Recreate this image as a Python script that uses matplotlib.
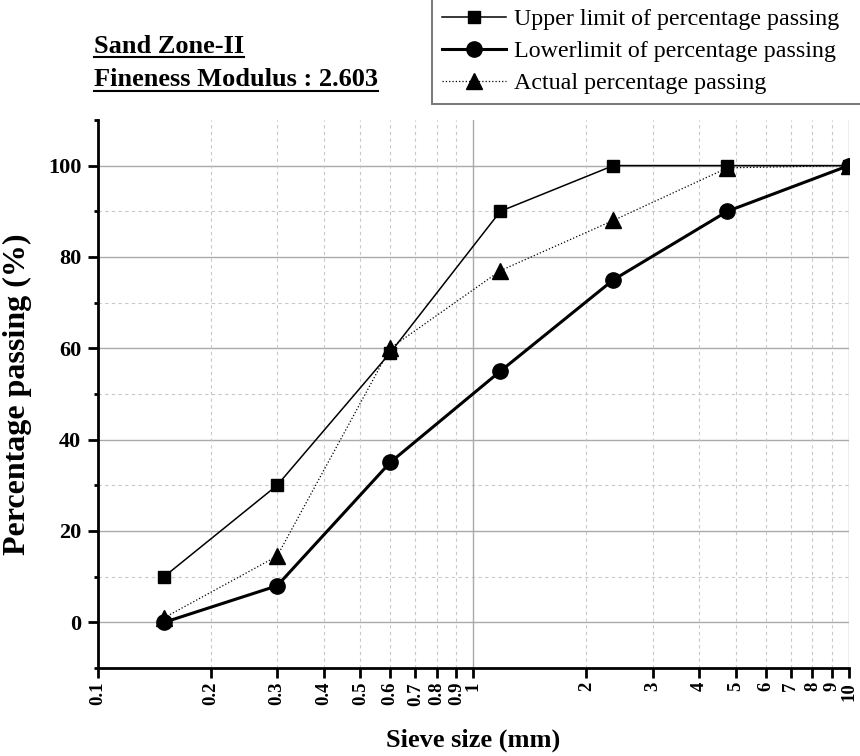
import matplotlib.pyplot as plt
from matplotlib.lines import Line2D
from matplotlib.ticker import FixedLocator, NullFormatter

plt.rcParams['font.family'] = ['Liberation Serif', 'DejaVu Serif']

# Sieve analysis data
sieve_mm = [0.15, 0.3, 0.6, 1.18, 2.36, 4.75, 10]
upper_limit = [10, 30, 59, 90, 100, 100, 100]
lower_limit = [0, 8, 35, 55, 75, 90, 100]
actual_passing = [1, 14.5, 60, 77, 88, 99.5, 100]

x_major = [0.1, 1, 10]
x_labels = [0.1, 0.2, 0.3, 0.4, 0.5, 0.6, 0.7, 0.8, 0.9,
            1, 2, 3, 4, 5, 6, 7, 8, 9, 10]
x_label_text = ['0.1', '0.2', '0.3', '0.4', '0.5', '0.6', '0.7', '0.8', '0.9',
                '1', '2', '3', '4', '5', '6', '7', '8', '9', '10']

fig = plt.figure(figsize=(8.6, 7.56), dpi=100)
ax = fig.add_axes([0.114, 0.1164, 0.873, 0.725])

ax.set_xscale('log')
ax.set_xlim(0.1, 10)
ax.set_ylim(-10, 110)

# grid: solid at majors, dashed at minors
for v in [0, 20, 40, 60, 80, 100]:
    ax.axhline(v, color='#aaaaaa', lw=1.0, zorder=0)
for v in [10, 30, 50, 70, 90]:
    ax.axhline(v, color='#c8c8c8', lw=0.8, ls=(0, (3, 3)), zorder=0)
for v in x_labels:
    if v in x_major:
        ax.axvline(v, color='#aaaaaa', lw=1.0, zorder=0)
    else:
        ax.axvline(v, color='#c8c8c8', lw=0.8, ls=(0, (3, 3)), zorder=0)

l1, = ax.plot(sieve_mm, upper_limit, color='black', lw=1.1, marker='s',
              ms=8.5, label='Upper limit of percentage passing', zorder=3)
l2, = ax.plot(sieve_mm, lower_limit, color='black', lw=2.2, marker='o',
              ms=11, label='Lowerlimit of percentage passing', zorder=3)
l3, = ax.plot(sieve_mm, actual_passing, color='black', lw=0.9, ls=':',
              marker='^', ms=11, label='Actual percentage passing', zorder=4)

for s in ['top', 'right']:
    ax.spines[s].set_visible(False)
for s in ['left', 'bottom']:
    ax.spines[s].set_linewidth(2.0)

ax.set_yticks([0, 20, 40, 60, 80, 100])
ax.yaxis.set_minor_locator(FixedLocator([-10, 10, 30, 50, 70, 90, 110]))
ax.tick_params(axis='y', which='major', length=7, width=2, labelsize=16, pad=5)
ax.tick_params(axis='y', which='minor', length=3, width=2)

ax.xaxis.set_major_locator(FixedLocator(x_labels))
ax.xaxis.set_minor_formatter(NullFormatter())
ax.xaxis.set_minor_locator(FixedLocator([]))
ax.set_xticklabels(x_label_text, rotation=90)
ax.tick_params(axis='x', which='major', length=7, width=2, labelsize=13.5, pad=3)
for lab in ax.get_xticklabels() + ax.get_yticklabels():
    lab.set_fontweight('bold')

ax.set_xlabel('Sieve size (mm)', fontsize=19, fontweight='bold')
ax.xaxis.set_label_coords(0.5, -0.11)
ax.set_ylabel('Percentage passing (%)', fontsize=23, fontweight='bold')
ax.yaxis.set_label_coords(-0.088, 0.5)

# legend box runs past the right edge of the figure
leg = fig.legend(handles=[l1, l2, l3], loc='upper left', mode='expand',
                 bbox_to_anchor=(432 / 860, 0.8, 0.6, 0.202), fontsize=17.3,
                 frameon=True, fancybox=False, edgecolor='#555555',
                 handlelength=2.7, handletextpad=0.3, labelspacing=0.43,
                 borderpad=0.4, borderaxespad=0)
leg.get_frame().set_linewidth(1.4)

# underlined headline text
fig.canvas.draw()
renderer = fig.canvas.get_renderer()
for txt, ypos in [('Sand Zone-II', 0.930), ('Fineness Modulus : 2.603', 0.886)]:
    t = fig.text(0.109, ypos, txt, fontsize=19, fontweight='bold',
                 ha='left', va='baseline')
    bb = t.get_window_extent(renderer).transformed(fig.transFigure.inverted())
    fig.add_artist(Line2D([bb.x0, bb.x1], [ypos - 0.006, ypos - 0.006],
                          color='black', lw=1.5, transform=fig.transFigure))

fig.savefig('out.png', dpi=100)
